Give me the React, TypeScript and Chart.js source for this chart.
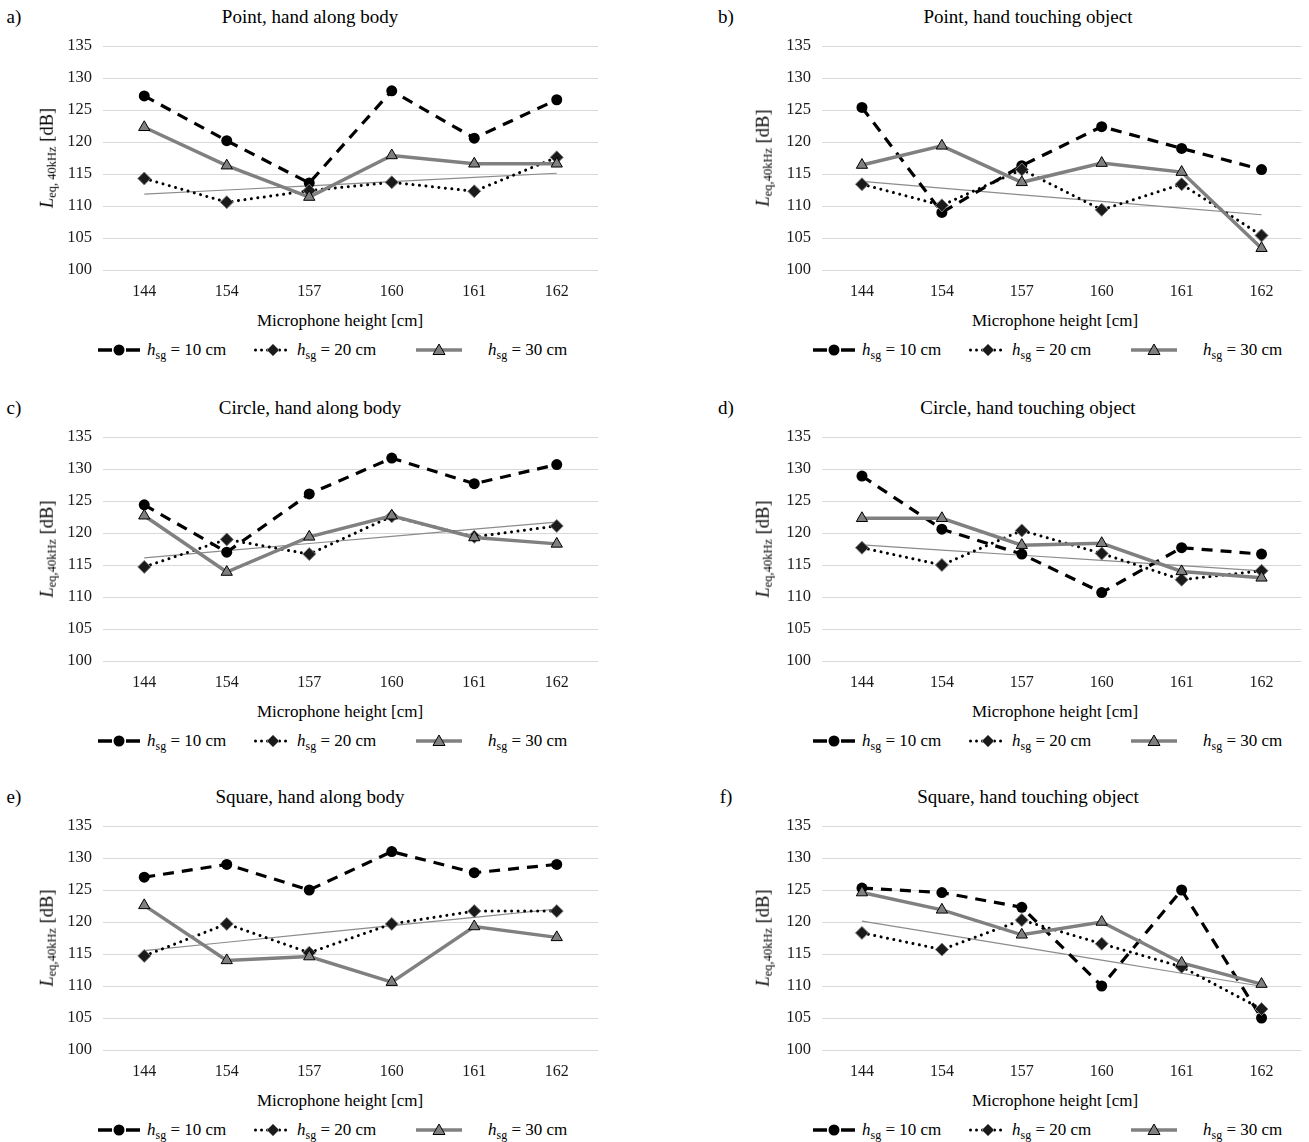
import React, { useEffect, useRef } from "react";
import { Chart, registerables } from "chart.js";

Chart.register(...registerables);

// ---------- data ----------
const categories = ["144", "154", "157", "160", "161", "162"];
const yMin = 100;
const yMax = 135;
const yStep = 5;
const seriesCm = ["10", "20", "30"];

const pointAlong10 = [127.2, 120.2, 113.6, 128.0, 120.6, 126.6];
const pointAlong20 = [114.3, 110.6, 112.4, 113.7, 112.3, 117.6];
const pointAlong30 = [122.3, 116.3, 111.4, 117.9, 116.6, 116.6];

const pointTouch10 = [125.4, 109.0, 116.3, 122.4, 119.0, 115.7];
const pointTouch20 = [113.4, 110.1, 115.7, 109.4, 113.4, 105.4];
const pointTouch30 = [116.4, 119.4, 113.7, 116.7, 115.3, 103.4];

const circleAlong10 = [124.4, 117.0, 126.1, 131.7, 127.7, 130.7];
const circleAlong20 = [114.7, 119.0, 116.7, 122.6, 119.4, 121.1];
const circleAlong30 = [122.7, 113.9, 119.4, 122.7, 119.3, 118.3];

const circleTouch10 = [128.9, 120.6, 116.7, 110.7, 117.7, 116.7];
const circleTouch20 = [117.7, 115.0, 120.4, 116.8, 112.7, 114.1];
const circleTouch30 = [122.3, 122.3, 118.1, 118.4, 114.0, 113.0];

const squareAlong10 = [127.0, 129.0, 125.0, 131.0, 127.7, 129.0];
const squareAlong20 = [114.7, 119.7, 115.2, 119.7, 121.7, 121.7];
const squareAlong30 = [122.6, 114.0, 114.6, 110.6, 119.3, 117.6];

const squareTouch10 = [125.3, 124.6, 122.3, 110.0, 125.0, 105.0];
const squareTouch20 = [118.3, 115.7, 120.3, 116.6, 113.0, 106.4];
const squareTouch30 = [124.6, 121.9, 118.0, 120.0, 113.6, 110.3];

const panelLetters = ["a)", "b)", "c)", "d)", "e)", "f)"];
const panelTitles = [
  "Point, hand along body",
  "Point, hand touching object",
  "Circle, hand along body",
  "Circle, hand touching object",
  "Square, hand along body",
  "Square, hand touching object",
];
const yTitleSubs = ["eq, 40kHz", "eq,40kHz", "eq,40kHz", "eq,40kHz", "eq,40kHz", "eq,40kHz"];
const panelSeries = [
  [pointAlong10, pointAlong20, pointAlong30],
  [pointTouch10, pointTouch20, pointTouch30],
  [circleAlong10, circleAlong20, circleAlong30],
  [circleTouch10, circleTouch20, circleTouch30],
  [squareAlong10, squareAlong20, squareAlong30],
  [squareTouch10, squareTouch20, squareTouch30],
];
const xAxisTitle = "Microphone height [cm]";

// linear trendline (least squares) of the 20 cm series, as the chart's trendline does
function linearTrend(values: number[]): number[] {
  const n = values.length;
  const mx = (n - 1) / 2;
  const my = values.reduce((a, b) => a + b, 0) / n;
  let sxy = 0;
  let sxx = 0;
  values.forEach((v, i) => {
    sxy += (i - mx) * (v - my);
    sxx += (i - mx) * (i - mx);
  });
  const slope = sxy / sxx;
  return values.map((_, i) => my + slope * (i - mx));
}

// ---------- layout ----------
const FONT = "'Liberation Serif', 'Times New Roman', serif";
const COLS = [
  { canvasLeft: 50, canvasWidth: 560, plotLeft: 103, plotRight: 598, letterX: 14, titleCx: 310, xTitleCx: 340, yTitleCx: 47, legendLeft: 98 },
  { canvasLeft: 768, canvasWidth: 541, plotLeft: 822, plotRight: 1305, letterX: 726, titleCx: 1028, xTitleCx: 1055, yTitleCx: 763, legendLeft: 813 },
];
const ROWS = [0, 391, 780];
const PLOT_TOP = 46;
const PLOT_BOTTOM = 270;
const CANVAS_H = 300;

const GRAY = "#808080";

function LegendSample({ kind }: { kind: number }) {
  if (kind === 0) {
    return (
      <svg width={42} height={16} style={{ display: "block" }}>
        <line x1={0} y1={8} x2={14} y2={8} stroke="#000" strokeWidth={3.5} />
        <line x1={28} y1={8} x2={42} y2={8} stroke="#000" strokeWidth={3.5} />
        <circle cx={21} cy={8} r={5.5} fill="#000" />
      </svg>
    );
  }
  if (kind === 1) {
    return (
      <svg width={38} height={16} style={{ display: "block" }}>
        <line x1={1.5} y1={8} x2={37} y2={8} stroke="#000" strokeWidth={3} strokeDasharray="0.01 6" strokeLinecap="round" />
        <polygon points="19,2 25,8 19,14 13,8" fill="#1a1a1a" stroke={GRAY} strokeWidth={1} />
      </svg>
    );
  }
  return (
    <svg width={46} height={16} style={{ display: "block" }}>
      <line x1={0} y1={8} x2={46} y2={8} stroke={GRAY} strokeWidth={3.5} />
      <polygon points="23,2 29,12.5 17,12.5" fill={GRAY} stroke="#000" strokeWidth={1} />
    </svg>
  );
}

function Panel({ index }: { index: number }) {
  const ref = useRef<HTMLCanvasElement | null>(null);
  const col = COLS[index % 2];
  const rowTop = ROWS[Math.floor(index / 2)];
  const [s10, s20, s30] = panelSeries[index];

  useEffect(() => {
    if (!ref.current) return;
    const trend = linearTrend(s20);
    const chart = new Chart(ref.current, {
      type: "line",
      data: {
        labels: categories,
        datasets: [
          {
            label: `h_sg = ${seriesCm[0]} cm`,
            data: s10,
            borderColor: "#000",
            borderWidth: 3.2,
            borderDash: [11, 8],
            pointStyle: "circle",
            pointRadius: 5.5,
            pointBackgroundColor: "#000",
            pointBorderColor: "#000",
            pointBorderWidth: 0,
            order: 3,
          },
          {
            label: `h_sg = ${seriesCm[1]} cm`,
            data: s20,
            borderColor: "#000",
            borderWidth: 3,
            borderDash: [0.01, 6.5],
            borderCapStyle: "round",
            pointStyle: "rectRot",
            pointRadius: 6.5,
            pointBackgroundColor: "#1a1a1a",
            pointBorderColor: GRAY,
            pointBorderWidth: 1,
            order: 2,
          },
          {
            label: `h_sg = ${seriesCm[2]} cm`,
            data: s30,
            borderColor: GRAY,
            borderWidth: 3.5,
            pointStyle: "triangle",
            pointRadius: 6.5,
            pointBackgroundColor: GRAY,
            pointBorderColor: "#000",
            pointBorderWidth: 1,
            order: 1,
          },
          {
            label: "trend",
            data: trend,
            borderColor: "#8c8c8c",
            borderWidth: 1.2,
            pointRadius: 0,
            order: 4,
          },
        ],
      },
      options: {
        responsive: false,
        animation: false,
        layout: {
          padding: { top: PLOT_TOP, left: 0, bottom: 0, right: col.canvasLeft + col.canvasWidth - col.plotRight },
        },
        plugins: { legend: { display: false }, tooltip: { enabled: false }, title: { display: false } },
        scales: {
          x: {
            type: "category",
            offset: true,
            grid: { display: false, drawTicks: false },
            border: { display: false },
            ticks: { padding: 12, color: "#1a1a1a", font: { family: FONT, size: 16 }, maxRotation: 0 },
            afterFit: (scale: any) => {
              scale.height = CANVAS_H - PLOT_BOTTOM;
            },
          },
          y: {
            min: yMin,
            max: yMax,
            grid: { color: "#d9d9d9", lineWidth: 1, drawTicks: false },
            border: { display: false },
            ticks: { stepSize: yStep, padding: 11, color: "#1a1a1a", font: { family: FONT, size: 16.5 } },
            afterFit: (scale: any) => {
              scale.width = col.plotLeft - col.canvasLeft;
            },
          },
        },
      },
    } as any);
    return () => chart.destroy();
  }, [index]);

  const textOffsets = [49, 43, 72];
  const itemOffsets = [0, 156, 318];
  const plotMidY = rowTop + (PLOT_TOP + PLOT_BOTTOM) / 2;

  return (
    <>
      <div style={{ position: "absolute", left: col.letterX, top: rowTop + 17, transform: "translate(-50%,-50%)", fontSize: 19, fontFamily: FONT, whiteSpace: "nowrap" }}>
        {panelLetters[index]}
      </div>
      <div style={{ position: "absolute", left: col.titleCx, top: rowTop + 17, transform: "translate(-50%,-50%)", fontSize: 19, fontFamily: FONT, whiteSpace: "nowrap" }}>
        {panelTitles[index]}
      </div>
      <canvas
        ref={ref}
        width={col.canvasWidth}
        height={CANVAS_H}
        style={{ position: "absolute", left: col.canvasLeft, top: rowTop, width: col.canvasWidth, height: CANVAS_H }}
      />
      <div
        style={{
          position: "absolute",
          left: col.yTitleCx,
          top: plotMidY,
          transform: "translate(-50%,-50%) rotate(-90deg)",
          fontSize: 18.5,
          fontFamily: FONT,
          whiteSpace: "nowrap",
          lineHeight: 1,
        }}
      >
        <i>L</i>
        <sub style={{ fontSize: 12.5, verticalAlign: "-3px", lineHeight: 0 }}>{yTitleSubs[index]}</sub> [dB]
      </div>
      <div style={{ position: "absolute", left: col.xTitleCx, top: rowTop + 321, transform: "translate(-50%,-50%)", fontSize: 17, fontFamily: FONT, whiteSpace: "nowrap" }}>
        {xAxisTitle}
      </div>
      {seriesCm.map((cm, k) => (
        <React.Fragment key={k}>
          <div style={{ position: "absolute", left: col.legendLeft + itemOffsets[k], top: rowTop + 350 - 8 }}>
            <LegendSample kind={k} />
          </div>
          <div
            style={{
              position: "absolute",
              left: col.legendLeft + itemOffsets[k] + textOffsets[k],
              top: rowTop + 349,
              transform: "translateY(-50%)",
              fontSize: 17,
              fontFamily: FONT,
              whiteSpace: "nowrap",
              lineHeight: 1,
            }}
          >
            <i>h</i>
            <sub style={{ fontSize: 12, verticalAlign: "-4px", lineHeight: 0 }}>sg</sub> = {cm} cm
          </div>
        </React.Fragment>
      ))}
    </>
  );
}

export default function App() {
  return (
    <div style={{ position: "absolute", left: 0, top: 0, width: 1309, height: 1142, background: "#fff", overflow: "hidden" }}>
      {panelTitles.map((_, i) => (
        <Panel key={i} index={i} />
      ))}
    </div>
  );
}
